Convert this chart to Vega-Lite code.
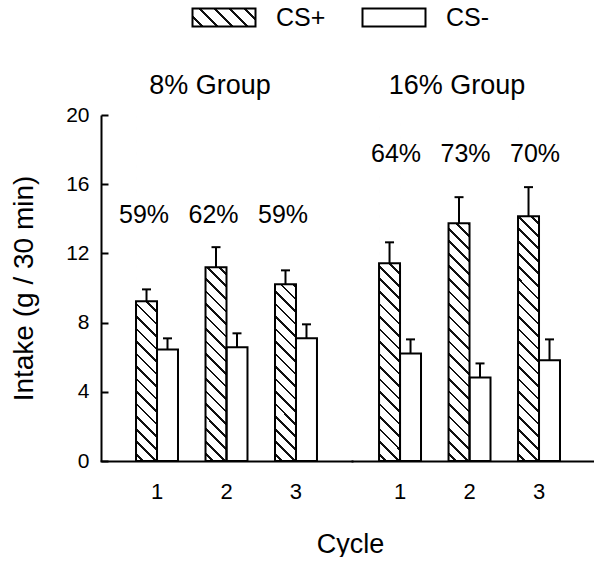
{
  "$schema": "https://vega.github.io/schema/vega-lite/v6.json",
  "autosize": {"type": "pad"},
  "padding": {"left": 10, "top": 5, "right": 0, "bottom": 0},
  "background": "white",
  "datasets": {
    "bars": [
      {"group": "8%", "cycle": "1", "cs": "CS+", "mean": 9.23, "upper": 9.92},
      {"group": "8%", "cycle": "1", "cs": "CS-", "mean": 6.45, "upper": 7.09},
      {"group": "8%", "cycle": "2", "cs": "CS+", "mean": 11.2, "upper": 12.36},
      {"group": "8%", "cycle": "2", "cs": "CS-", "mean": 6.57, "upper": 7.38},
      {"group": "8%", "cycle": "3", "cs": "CS+", "mean": 10.21, "upper": 11.02},
      {"group": "8%", "cycle": "3", "cs": "CS-", "mean": 7.09, "upper": 7.9},
      {"group": "16%", "cycle": "1", "cs": "CS+", "mean": 11.43, "upper": 12.64},
      {"group": "16%", "cycle": "1", "cs": "CS-", "mean": 6.22, "upper": 7.03},
      {"group": "16%", "cycle": "2", "cs": "CS+", "mean": 13.74, "upper": 15.25},
      {"group": "16%", "cycle": "2", "cs": "CS-", "mean": 4.83, "upper": 5.64},
      {"group": "16%", "cycle": "3", "cs": "CS+", "mean": 14.15, "upper": 15.83},
      {"group": "16%", "cycle": "3", "cs": "CS-", "mean": 5.82, "upper": 7.03}
    ],
    "pct": [
      {"group": "8%", "cycle": "1", "pct": "59%"},
      {"group": "8%", "cycle": "2", "pct": "62%"},
      {"group": "8%", "cycle": "3", "pct": "59%"},
      {"group": "16%", "cycle": "1", "pct": "64%"},
      {"group": "16%", "cycle": "2", "pct": "73%"},
      {"group": "16%", "cycle": "3", "pct": "70%"}
    ]
  },
  "spacing": 0,
  "bounds": "flush",
  "resolve": {
    "scale": {"x": "independent", "y": "independent", "xOffset": "independent", "shape": "independent"},
    "legend": {"shape": "independent"}
  },
  "hconcat": [
    {
      "width": 251,
      "height": 346,
      "title": {"text": "8% Group", "frame": "group", "anchor": "middle", "offset": -116, "baseline": "alphabetic", "dx": -16.5},
      "encoding": {
        "x": {
          "field": "cycle", "type": "nominal", "sort": ["1", "2", "3"],
          "scale": {"domain": ["1", "2", "3"], "paddingInner": 0.396, "paddingOuter": 0.504, "align": 0.5},
          "axis": {"title": "Cycle", "titleX": 249, "titleY": 91, "titleBaseline": "alphabetic", "titleAlign": "center", "titleFontSize": 27, "ticks": false, "labelFontSize": 22, "labelPadding": 20, "labelAngle": 0, "domainCap": "square"}
        }
      },
      "layer": [
        {
          "data": {"name": "bars"},
          "transform": [{"filter": "datum.group === '8%' && datum.cs === 'CS+'"}],
          "mark": {"type": "point", "opacity": 0, "filled": true, "stroke": "black", "strokeWidth": 2,
            "fill": {"gradient": "linear", "x1": 0, "y1": 1, "x2": 1.1887, "y2": 0.6604, "stops": [
              {"offset": 0, "color": "white"},
              {"offset": 0.1027, "color": "white"}, {"offset": 0.1027, "color": "#111"}, {"offset": 0.1373, "color": "#111"}, {"offset": 0.1373, "color": "white"},
              {"offset": 0.2877, "color": "white"}, {"offset": 0.2877, "color": "#111"}, {"offset": 0.3223, "color": "#111"}, {"offset": 0.3223, "color": "white"},
              {"offset": 0.4727, "color": "white"}, {"offset": 0.4727, "color": "#111"}, {"offset": 0.5073, "color": "#111"}, {"offset": 0.5073, "color": "white"},
              {"offset": 0.6577, "color": "white"}, {"offset": 0.6577, "color": "#111"}, {"offset": 0.6923, "color": "#111"}, {"offset": 0.6923, "color": "white"},
              {"offset": 0.8427, "color": "white"}, {"offset": 0.8427, "color": "#111"}, {"offset": 0.8773, "color": "#111"}, {"offset": 0.8773, "color": "white"},
              {"offset": 1, "color": "white"}
            ]}},
          "encoding": {
            "xOffset": {"field": "cs", "type": "nominal", "scale": {"domain": ["CS+", "CS-"], "paddingInner": 0, "paddingOuter": 0}},
            "y": {"field": "mean", "type": "quantitative", "scale": {"domain": [0, 20], "nice": false},
              "axis": {"values": [0, 4, 8, 12, 16, 20], "tickSize": -7, "tickWidth": 2, "tickColor": "black", "labelFontSize": 21, "labelPadding": 19, "title": "Intake (g / 30 min)", "titleFontSize": 28, "titleX": -77, "titleY": 173, "titleAngle": -90, "titleBaseline": "middle", "titleAlign": "center"}},
            "shape": {
              "field": "cs", "type": "nominal",
              "scale": {"domain": ["CS+"], "range": ["M-1,-1H6V1H-1Z"]},
              "legend": {
                "orient": "none", "legendX": 88, "legendY": -110, "direction": "horizontal", "title": null,
                "symbolSize": 324, "symbolOpacity": 1, "symbolStrokeWidth": 2,
                "labelFontSize": 25, "labelOffset": 62, "padding": 0
              }
            }
          }
        },
        {
          "data": {"name": "bars"},
          "transform": [{"filter": "datum.group === '8%' && datum.cs === 'CS+'"}],
          "mark": {"type": "bar", "fill": {"gradient": "linear", "x1": 0, "y1": 1, "x2": 0.06416, "y2": -0.0568, "stops": [
            {"offset": 0, "color": "white"},
            {"offset": 0.0162, "color": "white"}, {"offset": 0.0162, "color": "#111"}, {"offset": 0.0238, "color": "#111"}, {"offset": 0.0238, "color": "white"},
            {"offset": 0.0503, "color": "white"}, {"offset": 0.0503, "color": "#111"}, {"offset": 0.0579, "color": "#111"}, {"offset": 0.0579, "color": "white"},
            {"offset": 0.0844, "color": "white"}, {"offset": 0.0844, "color": "#111"}, {"offset": 0.0920, "color": "#111"}, {"offset": 0.0920, "color": "white"},
            {"offset": 0.1185, "color": "white"}, {"offset": 0.1185, "color": "#111"}, {"offset": 0.1261, "color": "#111"}, {"offset": 0.1261, "color": "white"},
            {"offset": 0.1526, "color": "white"}, {"offset": 0.1526, "color": "#111"}, {"offset": 0.1602, "color": "#111"}, {"offset": 0.1602, "color": "white"},
            {"offset": 0.1868, "color": "white"}, {"offset": 0.1868, "color": "#111"}, {"offset": 0.1944, "color": "#111"}, {"offset": 0.1944, "color": "white"},
            {"offset": 0.2209, "color": "white"}, {"offset": 0.2209, "color": "#111"}, {"offset": 0.2285, "color": "#111"}, {"offset": 0.2285, "color": "white"},
            {"offset": 0.2550, "color": "white"}, {"offset": 0.2550, "color": "#111"}, {"offset": 0.2626, "color": "#111"}, {"offset": 0.2626, "color": "white"},
            {"offset": 0.2891, "color": "white"}, {"offset": 0.2891, "color": "#111"}, {"offset": 0.2967, "color": "#111"}, {"offset": 0.2967, "color": "white"},
            {"offset": 0.3232, "color": "white"}, {"offset": 0.3232, "color": "#111"}, {"offset": 0.3308, "color": "#111"}, {"offset": 0.3308, "color": "white"},
            {"offset": 0.3573, "color": "white"}, {"offset": 0.3573, "color": "#111"}, {"offset": 0.3649, "color": "#111"}, {"offset": 0.3649, "color": "white"},
            {"offset": 0.3914, "color": "white"}, {"offset": 0.3914, "color": "#111"}, {"offset": 0.3990, "color": "#111"}, {"offset": 0.3990, "color": "white"},
            {"offset": 0.4255, "color": "white"}, {"offset": 0.4255, "color": "#111"}, {"offset": 0.4331, "color": "#111"}, {"offset": 0.4331, "color": "white"},
            {"offset": 0.4596, "color": "white"}, {"offset": 0.4596, "color": "#111"}, {"offset": 0.4672, "color": "#111"}, {"offset": 0.4672, "color": "white"},
            {"offset": 0.4937, "color": "white"}, {"offset": 0.4937, "color": "#111"}, {"offset": 0.5013, "color": "#111"}, {"offset": 0.5013, "color": "white"},
            {"offset": 0.5279, "color": "white"}, {"offset": 0.5279, "color": "#111"}, {"offset": 0.5355, "color": "#111"}, {"offset": 0.5355, "color": "white"},
            {"offset": 0.5620, "color": "white"}, {"offset": 0.5620, "color": "#111"}, {"offset": 0.5696, "color": "#111"}, {"offset": 0.5696, "color": "white"},
            {"offset": 0.5961, "color": "white"}, {"offset": 0.5961, "color": "#111"}, {"offset": 0.6037, "color": "#111"}, {"offset": 0.6037, "color": "white"},
            {"offset": 0.6302, "color": "white"}, {"offset": 0.6302, "color": "#111"}, {"offset": 0.6378, "color": "#111"}, {"offset": 0.6378, "color": "white"},
            {"offset": 0.6643, "color": "white"}, {"offset": 0.6643, "color": "#111"}, {"offset": 0.6719, "color": "#111"}, {"offset": 0.6719, "color": "white"},
            {"offset": 0.6984, "color": "white"}, {"offset": 0.6984, "color": "#111"}, {"offset": 0.7060, "color": "#111"}, {"offset": 0.7060, "color": "white"},
            {"offset": 0.7325, "color": "white"}, {"offset": 0.7325, "color": "#111"}, {"offset": 0.7401, "color": "#111"}, {"offset": 0.7401, "color": "white"},
            {"offset": 0.7666, "color": "white"}, {"offset": 0.7666, "color": "#111"}, {"offset": 0.7742, "color": "#111"}, {"offset": 0.7742, "color": "white"},
            {"offset": 0.8007, "color": "white"}, {"offset": 0.8007, "color": "#111"}, {"offset": 0.8083, "color": "#111"}, {"offset": 0.8083, "color": "white"},
            {"offset": 0.8348, "color": "white"}, {"offset": 0.8348, "color": "#111"}, {"offset": 0.8424, "color": "#111"}, {"offset": 0.8424, "color": "white"},
            {"offset": 0.8690, "color": "white"}, {"offset": 0.8690, "color": "#111"}, {"offset": 0.8766, "color": "#111"}, {"offset": 0.8766, "color": "white"},
            {"offset": 0.9031, "color": "white"}, {"offset": 0.9031, "color": "#111"}, {"offset": 0.9107, "color": "#111"}, {"offset": 0.9107, "color": "white"},
            {"offset": 0.9372, "color": "white"}, {"offset": 0.9372, "color": "#111"}, {"offset": 0.9448, "color": "#111"}, {"offset": 0.9448, "color": "white"},
            {"offset": 0.9713, "color": "white"}, {"offset": 0.9713, "color": "#111"}, {"offset": 0.9789, "color": "#111"}, {"offset": 0.9789, "color": "white"},
            {"offset": 1, "color": "white"}
          ]}},
          "encoding": {
            "xOffset": {"field": "cs", "type": "nominal", "scale": {"domain": ["CS+", "CS-"], "paddingInner": 0, "paddingOuter": 0}},
            "y": {"datum": 20, "type": "quantitative", "scale": {"domain": [0, 20], "nice": false},
              "axis": {"values": [0, 4, 8, 12, 16, 20], "tickSize": -7, "tickWidth": 2, "tickColor": "black", "labelFontSize": 21, "labelPadding": 19, "title": "Intake (g / 30 min)", "titleFontSize": 28, "titleX": -77, "titleY": 173, "titleAngle": -90, "titleBaseline": "middle", "titleAlign": "center"}},
            "y2": {"datum": 0}
          }
        },
        {
          "data": {"name": "bars"},
          "transform": [{"filter": "datum.group === '8%' && datum.cs === 'CS+'"}],
          "mark": {"type": "bar", "fill": "white", "stroke": "white", "strokeWidth": 1.5},
          "encoding": {
            "xOffset": {"field": "cs", "type": "nominal", "scale": {"domain": ["CS+", "CS-"], "paddingInner": 0, "paddingOuter": 0}},
            "y": {"field": "mean", "type": "quantitative", "scale": {"domain": [0, 20], "nice": false},
              "axis": {"values": [0, 4, 8, 12, 16, 20], "tickSize": -7, "tickWidth": 2, "tickColor": "black", "labelFontSize": 21, "labelPadding": 19, "title": "Intake (g / 30 min)", "titleFontSize": 28, "titleX": -77, "titleY": 173, "titleAngle": -90, "titleBaseline": "middle", "titleAlign": "center"}},
            "y2": {"datum": 20}
          }
        },
        {
          "data": {"name": "bars"},
          "transform": [{"filter": "datum.group === '8%'"}],
          "mark": {"type": "bar", "fill": "transparent", "stroke": "black", "strokeWidth": 2},
          "encoding": {
            "xOffset": {"field": "cs", "type": "nominal", "scale": {"domain": ["CS+", "CS-"], "paddingInner": 0, "paddingOuter": 0}},
            "y": {"field": "mean", "type": "quantitative", "scale": {"domain": [0, 20], "nice": false},
              "axis": {"values": [0, 4, 8, 12, 16, 20], "tickSize": -7, "tickWidth": 2, "tickColor": "black", "labelFontSize": 21, "labelPadding": 19, "title": "Intake (g / 30 min)", "titleFontSize": 28, "titleX": -77, "titleY": 173, "titleAngle": -90, "titleBaseline": "middle", "titleAlign": "center"}}
          }
        },
        {
          "data": {"name": "bars"},
          "transform": [{"filter": "datum.group === '8%'"}],
          "mark": {"type": "rule", "strokeWidth": 2, "color": "black"},
          "encoding": {
            "xOffset": {"field": "cs", "type": "nominal", "scale": {"domain": ["CS+", "CS-"], "paddingInner": 0, "paddingOuter": 0}},
            "y": {"field": "mean", "type": "quantitative", "scale": {"domain": [0, 20], "nice": false},
              "axis": {"values": [0, 4, 8, 12, 16, 20], "tickSize": -7, "tickWidth": 2, "tickColor": "black", "labelFontSize": 21, "labelPadding": 19, "title": "Intake (g / 30 min)", "titleFontSize": 28, "titleX": -77, "titleY": 173, "titleAngle": -90, "titleBaseline": "middle", "titleAlign": "center"}},
            "y2": {"field": "upper"}
          }
        },
        {
          "data": {"name": "bars"},
          "transform": [{"filter": "datum.group === '8%'"}],
          "mark": {"type": "tick", "orient": "horizontal", "size": 9, "thickness": 2, "color": "black", "opacity": 1},
          "encoding": {
            "xOffset": {"field": "cs", "type": "nominal", "scale": {"domain": ["CS+", "CS-"], "paddingInner": 0, "paddingOuter": 0}},
            "y": {"field": "upper", "type": "quantitative", "scale": {"domain": [0, 20], "nice": false},
              "axis": {"values": [0, 4, 8, 12, 16, 20], "tickSize": -7, "tickWidth": 2, "tickColor": "black", "labelFontSize": 21, "labelPadding": 19, "title": "Intake (g / 30 min)", "titleFontSize": 28, "titleX": -77, "titleY": 173, "titleAngle": -90, "titleBaseline": "middle", "titleAlign": "center"}}
          }
        },
        {
          "data": {"name": "pct"},
          "transform": [{"filter": "datum.group === '8%'"}],
          "mark": {"type": "text", "fontSize": 25, "dx": -13, "baseline": "alphabetic", "align": "center", "color": "black"},
          "encoding": {
            "y": {"datum": 13.76, "type": "quantitative", "scale": {"domain": [0, 20], "nice": false},
              "axis": {"values": [0, 4, 8, 12, 16, 20], "tickSize": -7, "tickWidth": 2, "tickColor": "black", "labelFontSize": 21, "labelPadding": 19, "title": "Intake (g / 30 min)", "titleFontSize": 28, "titleX": -77, "titleY": 173, "titleAngle": -90, "titleBaseline": "middle", "titleAlign": "center"}},
            "text": {"field": "pct"}
          }
        }
      ]
    },
    {
      "width": 242,
      "height": 346,
      "title": {"text": "16% Group", "frame": "group", "anchor": "middle", "offset": -116, "baseline": "alphabetic", "dx": -16},
      "encoding": {
        "x": {
          "field": "cycle", "type": "nominal", "sort": ["1", "2", "3"],
          "scale": {"domain": ["1", "2", "3"], "paddingInner": 0.396, "paddingOuter": 0.4392, "align": 0.443},
          "axis": {"title": null, "ticks": false, "labelFontSize": 22, "labelPadding": 20, "labelAngle": 0, "domainCap": "square"}
        }
      },
      "layer": [
        {
          "data": {"name": "bars"},
          "transform": [{"filter": "datum.group === '16%' && datum.cs === 'CS-'"}],
          "mark": {"type": "point", "opacity": 0, "filled": true, "fill": "white", "stroke": "black", "strokeWidth": 2},
          "encoding": {
            "xOffset": {"field": "cs", "type": "nominal", "scale": {"domain": ["CS+", "CS-"], "paddingInner": 0, "paddingOuter": 0}},
            "y": {"field": "mean", "type": "quantitative", "scale": {"domain": [0, 20], "nice": false}, "axis": null},
            "shape": {
              "field": "cs", "type": "nominal",
              "scale": {"domain": ["CS-"], "range": ["M-1,-1H6V1H-1Z"]},
              "legend": {
                "orient": "none", "legendX": 7, "legendY": -110, "direction": "horizontal", "title": null,
                "symbolSize": 324, "symbolOpacity": 1, "symbolStrokeWidth": 2,
                "labelFontSize": 25, "labelOffset": 62, "padding": 0
              }
            }
          }
        },
        {
          "data": {"name": "bars"},
          "transform": [{"filter": "datum.group === '16%' && datum.cs === 'CS+'"}],
          "mark": {"type": "bar", "fill": {"gradient": "linear", "x1": 0, "y1": 1, "x2": 0.06416, "y2": -0.0568, "stops": [
            {"offset": 0, "color": "white"},
            {"offset": 0.0162, "color": "white"}, {"offset": 0.0162, "color": "#111"}, {"offset": 0.0238, "color": "#111"}, {"offset": 0.0238, "color": "white"},
            {"offset": 0.0503, "color": "white"}, {"offset": 0.0503, "color": "#111"}, {"offset": 0.0579, "color": "#111"}, {"offset": 0.0579, "color": "white"},
            {"offset": 0.0844, "color": "white"}, {"offset": 0.0844, "color": "#111"}, {"offset": 0.0920, "color": "#111"}, {"offset": 0.0920, "color": "white"},
            {"offset": 0.1185, "color": "white"}, {"offset": 0.1185, "color": "#111"}, {"offset": 0.1261, "color": "#111"}, {"offset": 0.1261, "color": "white"},
            {"offset": 0.1526, "color": "white"}, {"offset": 0.1526, "color": "#111"}, {"offset": 0.1602, "color": "#111"}, {"offset": 0.1602, "color": "white"},
            {"offset": 0.1868, "color": "white"}, {"offset": 0.1868, "color": "#111"}, {"offset": 0.1944, "color": "#111"}, {"offset": 0.1944, "color": "white"},
            {"offset": 0.2209, "color": "white"}, {"offset": 0.2209, "color": "#111"}, {"offset": 0.2285, "color": "#111"}, {"offset": 0.2285, "color": "white"},
            {"offset": 0.2550, "color": "white"}, {"offset": 0.2550, "color": "#111"}, {"offset": 0.2626, "color": "#111"}, {"offset": 0.2626, "color": "white"},
            {"offset": 0.2891, "color": "white"}, {"offset": 0.2891, "color": "#111"}, {"offset": 0.2967, "color": "#111"}, {"offset": 0.2967, "color": "white"},
            {"offset": 0.3232, "color": "white"}, {"offset": 0.3232, "color": "#111"}, {"offset": 0.3308, "color": "#111"}, {"offset": 0.3308, "color": "white"},
            {"offset": 0.3573, "color": "white"}, {"offset": 0.3573, "color": "#111"}, {"offset": 0.3649, "color": "#111"}, {"offset": 0.3649, "color": "white"},
            {"offset": 0.3914, "color": "white"}, {"offset": 0.3914, "color": "#111"}, {"offset": 0.3990, "color": "#111"}, {"offset": 0.3990, "color": "white"},
            {"offset": 0.4255, "color": "white"}, {"offset": 0.4255, "color": "#111"}, {"offset": 0.4331, "color": "#111"}, {"offset": 0.4331, "color": "white"},
            {"offset": 0.4596, "color": "white"}, {"offset": 0.4596, "color": "#111"}, {"offset": 0.4672, "color": "#111"}, {"offset": 0.4672, "color": "white"},
            {"offset": 0.4937, "color": "white"}, {"offset": 0.4937, "color": "#111"}, {"offset": 0.5013, "color": "#111"}, {"offset": 0.5013, "color": "white"},
            {"offset": 0.5279, "color": "white"}, {"offset": 0.5279, "color": "#111"}, {"offset": 0.5355, "color": "#111"}, {"offset": 0.5355, "color": "white"},
            {"offset": 0.5620, "color": "white"}, {"offset": 0.5620, "color": "#111"}, {"offset": 0.5696, "color": "#111"}, {"offset": 0.5696, "color": "white"},
            {"offset": 0.5961, "color": "white"}, {"offset": 0.5961, "color": "#111"}, {"offset": 0.6037, "color": "#111"}, {"offset": 0.6037, "color": "white"},
            {"offset": 0.6302, "color": "white"}, {"offset": 0.6302, "color": "#111"}, {"offset": 0.6378, "color": "#111"}, {"offset": 0.6378, "color": "white"},
            {"offset": 0.6643, "color": "white"}, {"offset": 0.6643, "color": "#111"}, {"offset": 0.6719, "color": "#111"}, {"offset": 0.6719, "color": "white"},
            {"offset": 0.6984, "color": "white"}, {"offset": 0.6984, "color": "#111"}, {"offset": 0.7060, "color": "#111"}, {"offset": 0.7060, "color": "white"},
            {"offset": 0.7325, "color": "white"}, {"offset": 0.7325, "color": "#111"}, {"offset": 0.7401, "color": "#111"}, {"offset": 0.7401, "color": "white"},
            {"offset": 0.7666, "color": "white"}, {"offset": 0.7666, "color": "#111"}, {"offset": 0.7742, "color": "#111"}, {"offset": 0.7742, "color": "white"},
            {"offset": 0.8007, "color": "white"}, {"offset": 0.8007, "color": "#111"}, {"offset": 0.8083, "color": "#111"}, {"offset": 0.8083, "color": "white"},
            {"offset": 0.8348, "color": "white"}, {"offset": 0.8348, "color": "#111"}, {"offset": 0.8424, "color": "#111"}, {"offset": 0.8424, "color": "white"},
            {"offset": 0.8690, "color": "white"}, {"offset": 0.8690, "color": "#111"}, {"offset": 0.8766, "color": "#111"}, {"offset": 0.8766, "color": "white"},
            {"offset": 0.9031, "color": "white"}, {"offset": 0.9031, "color": "#111"}, {"offset": 0.9107, "color": "#111"}, {"offset": 0.9107, "color": "white"},
            {"offset": 0.9372, "color": "white"}, {"offset": 0.9372, "color": "#111"}, {"offset": 0.9448, "color": "#111"}, {"offset": 0.9448, "color": "white"},
            {"offset": 0.9713, "color": "white"}, {"offset": 0.9713, "color": "#111"}, {"offset": 0.9789, "color": "#111"}, {"offset": 0.9789, "color": "white"},
            {"offset": 1, "color": "white"}
          ]}},
          "encoding": {
            "xOffset": {"field": "cs", "type": "nominal", "scale": {"domain": ["CS+", "CS-"], "paddingInner": 0, "paddingOuter": 0}},
            "y": {"datum": 20, "type": "quantitative", "scale": {"domain": [0, 20], "nice": false}, "axis": null},
            "y2": {"datum": 0}
          }
        },
        {
          "data": {"name": "bars"},
          "transform": [{"filter": "datum.group === '16%' && datum.cs === 'CS+'"}],
          "mark": {"type": "bar", "fill": "white", "stroke": "white", "strokeWidth": 1.5},
          "encoding": {
            "xOffset": {"field": "cs", "type": "nominal", "scale": {"domain": ["CS+", "CS-"], "paddingInner": 0, "paddingOuter": 0}},
            "y": {"field": "mean", "type": "quantitative", "scale": {"domain": [0, 20], "nice": false}, "axis": null},
            "y2": {"datum": 20}
          }
        },
        {
          "data": {"name": "bars"},
          "transform": [{"filter": "datum.group === '16%'"}],
          "mark": {"type": "bar", "fill": "transparent", "stroke": "black", "strokeWidth": 2},
          "encoding": {
            "xOffset": {"field": "cs", "type": "nominal", "scale": {"domain": ["CS+", "CS-"], "paddingInner": 0, "paddingOuter": 0}},
            "y": {"field": "mean", "type": "quantitative", "scale": {"domain": [0, 20], "nice": false}, "axis": null}
          }
        },
        {
          "data": {"name": "bars"},
          "transform": [{"filter": "datum.group === '16%'"}],
          "mark": {"type": "rule", "strokeWidth": 2, "color": "black"},
          "encoding": {
            "xOffset": {"field": "cs", "type": "nominal", "scale": {"domain": ["CS+", "CS-"], "paddingInner": 0, "paddingOuter": 0}},
            "y": {"field": "mean", "type": "quantitative", "scale": {"domain": [0, 20], "nice": false}, "axis": null},
            "y2": {"field": "upper"}
          }
        },
        {
          "data": {"name": "bars"},
          "transform": [{"filter": "datum.group === '16%'"}],
          "mark": {"type": "tick", "orient": "horizontal", "size": 9, "thickness": 2, "color": "black", "opacity": 1},
          "encoding": {
            "xOffset": {"field": "cs", "type": "nominal", "scale": {"domain": ["CS+", "CS-"], "paddingInner": 0, "paddingOuter": 0}},
            "y": {"field": "upper", "type": "quantitative", "scale": {"domain": [0, 20], "nice": false}, "axis": null}
          }
        },
        {
          "data": {"name": "pct"},
          "transform": [{"filter": "datum.group === '16%'"}],
          "mark": {"type": "text", "fontSize": 25, "dx": -4, "baseline": "alphabetic", "align": "center", "color": "black"},
          "encoding": {
            "y": {"datum": 17.28, "type": "quantitative", "scale": {"domain": [0, 20], "nice": false}, "axis": null},
            "text": {"field": "pct"}
          }
        }
      ]
    }
  ],
  "config": {
    "font": "Liberation Sans",
    "view": {"stroke": null},
    "axis": {"domainColor": "black", "domainWidth": 2, "labelColor": "black", "titleColor": "black", "titleFontWeight": "normal", "grid": false, "labelFont": "Liberation Sans", "titleFont": "Liberation Sans"},
    "legend": {"labelColor": "black", "labelFont": "Liberation Sans"},
    "title": {"font": "Liberation Sans", "fontSize": 27, "fontWeight": "normal", "color": "black"},
    "text": {"font": "Liberation Sans"}
  }
}
